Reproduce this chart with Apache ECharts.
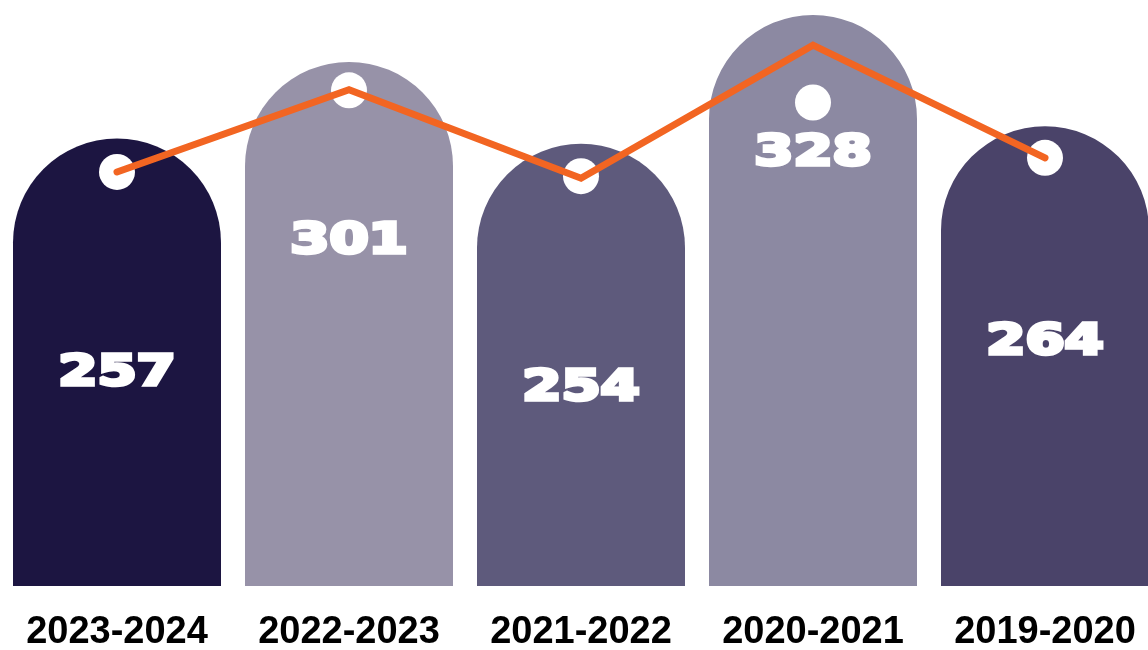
<!DOCTYPE html>
<html>
<head>
<meta charset="utf-8">
<script src="https://cdn.jsdelivr.net/npm/echarts@6/dist/echarts.min.js"></script>
<style>
  html, body { margin: 0; padding: 0; background: #ffffff; overflow: hidden; width: 1148px; height: 650px; }
  #chart { width: 1161px; height: 650px; }
</style>
</head>
<body>
<div id="chart"></div>
<script>
// ---- data ----
var categories = ['2023-2024', '2022-2023', '2021-2022', '2020-2021', '2019-2020'];
var values = [257, 301, 254, 328, 264];
// orange trend line (drawn through the tag holes), in the same value units
var lineValues = [237.8, 285.0, 234.2, 310.6, 245.9];
// tag hole centres, in value units
var holeValues = [237.8, 284.7, 235.4, 277.7, 245.9];
// vertical position of the number printed inside each tag, in value units
var labelValues = [121.6, 197.5, 113.1, 248.3, 139.4];

// ---- styles ----
var barColors = ['#1c1541', '#9792a8', '#5e5a7c', '#8c89a2', '#4a4369'];

var chart = echarts.init(document.getElementById('chart'), null, { renderer: 'canvas' });

var barData = values.map(function (v, i) {
  return { value: v, itemStyle: { color: barColors[i] } };
});
var labelData = labelValues.map(function (v, i) { return [i, v, String(values[i])]; });

chart.setOption({
  animation: false,
  backgroundColor: '#ffffff',
  grid: { left: 1, right: 0, top: 1, bottom: 64, containLabel: false, outerBoundsMode: 'none' },
  xAxis: {
    type: 'category',
    data: categories,
    axisLine: { show: false },
    axisTick: { show: false },
    axisLabel: {
      color: '#000000',
      fontFamily: 'Liberation Sans',
      fontWeight: 'bold',
      fontSize: 38,
      lineHeight: 38,
      margin: 28,
      interval: 0
    }
  },
  yAxis: {
    type: 'value',
    min: 0,
    max: 336,
    show: false,
    splitLine: { show: false }
  },
  series: [
    {
      type: 'bar',
      data: barData,
      barWidth: 208,
      itemStyle: { borderRadius: [104, 104, 0, 0] },
      z: 2
    },
    {
      type: 'scatter',
      data: holeValues,
      symbol: 'circle',
      symbolSize: 36,
      itemStyle: { color: '#ffffff', opacity: 1 },
      silent: true,
      z: 3
    },
    {
      type: 'custom',
      data: labelData,
      silent: true,
      z: 3,
      renderItem: function (params, api) {
        var p = api.coord([api.value(0), api.value(1)]);
        return {
          type: 'text',
          x: p[0],
          y: p[1],
          scaleX: 1.34,
          style: {
            text: labelData[params.dataIndex][2],
            fill: '#ffffff',
            stroke: '#ffffff',
            lineWidth: 3.5,
            fontFamily: 'DejaVu Sans',
            fontWeight: 'bold',
            fontSize: 42,
            align: 'center',
            verticalAlign: 'middle'
          }
        };
      }
    },
    {
      type: 'line',
      data: lineValues,
      symbol: 'none',
      lineStyle: { color: '#f26522', width: 7, cap: 'round', join: 'miter' },
      z: 4
    }
  ]
});
</script>
</body>
</html>
